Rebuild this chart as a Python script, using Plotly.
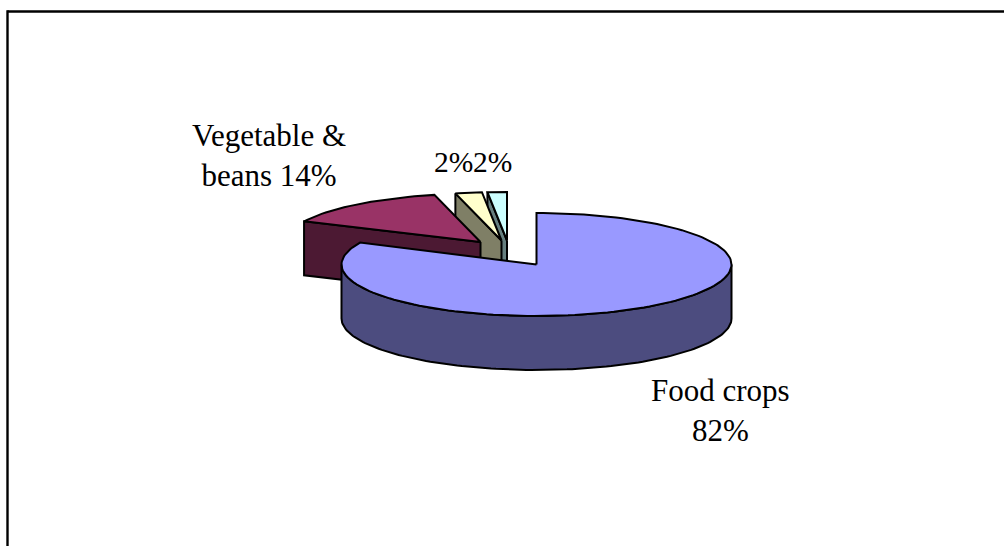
import math
import plotly.graph_objects as go

categories = ["Food crops", "Vegetable & beans", "Category 3", "Category 4"]
values = [82.0, 14.2, 2.2, 1.6]
label_texts = ["Food crops<br>82%", "Vegetable &<br>beans 14%", "2%", "2%"]
top_colors = ["#9999FF", "#993366", "#FFFFCC", "#CCFFFF"]
side_colors = ["#4C4C7F", "#4C1933", "#7F7F66", "#667F7F"]

# pie projection, in page pixels
CX, CY = 536.5, 264.5
RX = 195.0
RY = [51.5, 48.5, 48.5, 48.5]
DEPTH = 54.0
offsets = [(0, 0), (-56, -22.5), (-35, -24), (-29.5, -24)]

W, H = 1004, 546


def pt(t_deg, cx, cy, ry, dy=0.0):
    t = math.radians(t_deg)
    return cx + RX * math.sin(t), cy - ry * math.cos(t) + dy


def poly(fig, pts, color):
    xs = [p[0] for p in pts] + [pts[0][0]]
    ys = [p[1] for p in pts] + [pts[0][1]]
    fig.add_trace(go.Scatter(x=xs, y=ys, mode="lines", fill="toself", fillcolor=color,
                             line=dict(color="black", width=2), hoverinfo="skip",
                             showlegend=False))


total = sum(values)
spans = []
a = 0.0
for v in values:
    b = a + v / total * 360.0
    spans.append((a, b))
    a = b

fig = go.Figure()

# back to front: last slice first, the large slice on top
for i in [3, 2, 1, 0]:
    t0, t1 = spans[i]
    ox, oy = offsets[i]
    cx, cy, ry = CX + ox, CY + oy, RY[i]
    n = max(8, int((t1 - t0) / 2))
    arc = [pt(t0 + (t1 - t0) * k / n, cx, cy, ry) for k in range(n + 1)]
    if i == 0:
        # visible outer wall: right extreme through the front to the left extreme
        front = [pt(90 + 180 * k / 120, cx, cy, ry) for k in range(121)]
        wall = front + [(x, y + DEPTH) for x, y in reversed(front)]
        poly(fig, wall, side_colors[i])
    else:
        # cut face at the start of the slice
        o = pt(t0, cx, cy, ry)
        poly(fig, [(cx, cy), o, (o[0], o[1] + DEPTH), (cx, cy + DEPTH)], side_colors[i])
    poly(fig, [(cx, cy)] + arc, top_colors[i])

# labels
label_pos = [(720.7, 410.5), (268.5, 155.5), (453.5, 162), (492.5, 162)]
label_sizes = [31, 31, 29.5, 29.5]
for txt, (x, y), s in zip(label_texts, label_pos, label_sizes):
    fig.add_annotation(x=x, y=y, text=txt, showarrow=False, xref="x", yref="y",
                       font=dict(family="Liberation Serif", size=s, color="black"))

# chart frame
fig.add_shape(type="line", x0=7.5, x1=W, y0=11.5, y1=11.5, line=dict(color="black", width=2.4))
fig.add_shape(type="line", x0=7.5, x1=7.5, y0=10.3, y1=H, line=dict(color="black", width=2.4))

fig.update_layout(width=W, height=H, margin=dict(l=0, r=0, t=0, b=0),
                  paper_bgcolor="white", plot_bgcolor="white", showlegend=False,
                  xaxis=dict(range=[0, W], visible=False, fixedrange=True),
                  yaxis=dict(range=[H, 0], visible=False, fixedrange=True))
fig.write_html("out.html", post_script="document.body.style.margin='0';",
               config={"displayModeBar": False})
